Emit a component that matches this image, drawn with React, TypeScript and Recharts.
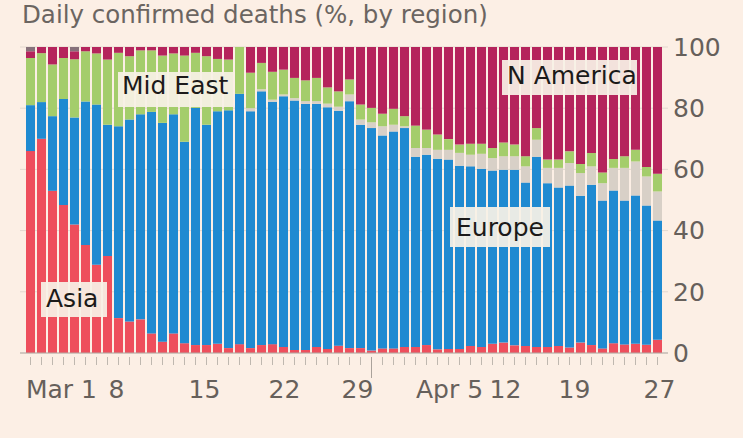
import { BarChart, Bar, XAxis, YAxis, CartesianGrid } from "recharts";

// one bar per day, Mar 1 to Apr 27
const DATES = [
  "03-01", "03-02", "03-03", "03-04", "03-05", "03-06", "03-07", "03-08", "03-09", "03-10",
  "03-11", "03-12", "03-13", "03-14", "03-15", "03-16", "03-17", "03-18", "03-19", "03-20",
  "03-21", "03-22", "03-23", "03-24", "03-25", "03-26", "03-27", "03-28", "03-29", "03-30",
  "03-31", "04-01", "04-02", "04-03", "04-04", "04-05", "04-06", "04-07", "04-08", "04-09",
  "04-10", "04-11", "04-12", "04-13", "04-14", "04-15", "04-16", "04-17", "04-18", "04-19",
  "04-20", "04-21", "04-22", "04-23", "04-24", "04-25", "04-26", "04-27",
];

// share of daily confirmed deaths, %
const ASIA = [
  66, 70, 53, 48.4, 42, 35.3, 28.8, 31.7, 11.4, 10.3,
  11, 6.4, 3.7, 6.4, 3.2, 2.6, 2.6, 3, 1.6, 2.9,
  1.6, 2.6, 2.9, 2, 1, 1, 2, 1.3, 2.4, 1.6,
  1.6, 0.8, 1.5, 1.5, 2, 2, 2.6, 1.2, 1.3, 1.3,
  2.3, 2, 3, 3.4, 2.5, 2.3, 2, 2, 2.3, 1.8,
  3.4, 2.6, 1.5, 3.2, 2.8, 3, 2.7, 4.3,
];
const EUROPE = [
  15, 12, 24.4, 34.6, 35, 46.9, 52.4, 42.9, 62.7, 66,
  67, 72.4, 71.5, 71.6, 65.8, 77.5, 72, 76, 77.7, 81.8,
  77.4, 82.9, 79.2, 81.9, 81.5, 80.4, 79.4, 79, 76.8, 80.7,
  73, 72.7, 69.6, 70.9, 71.5, 62.1, 62.2, 62.3, 61.9, 59.9,
  58.7, 58.2, 56.6, 56.5, 57.4, 53.4, 62.1, 53.5, 51.8, 52.9,
  48, 52.4, 48.3, 49.9, 47, 48.5, 45.5, 39,
];
const OTHER = [
  0, 0, 0, 0, 0, 0, 0, 0, 0, 0,
  0, 0, 0, 0, 0, 0, 0, 0, 0, 0,
  1, 0.7, 0.7, 0.6, 0.8, 0.9, 0.9, 1.2, 1.3, 2.2,
  1.7, 1.9, 3, 2.2, 0.6, 2.9, 2.2, 2.9, 3.2, 4.2,
  3.8, 4.9, 4.1, 4.4, 4.4, 5.3, 5.6, 5, 6.4, 7.4,
  7.4, 6, 5.7, 7.4, 10.7, 11.1, 9.5, 9.5,
];
const MID_EAST = [
  15.4, 16, 16.9, 13.4, 19, 16.4, 16.7, 21.3, 24, 20.7,
  20.9, 20.1, 22, 19.9, 28.2, 18, 22.4, 17.1, 16.6, 15.3,
  11.6, 8.6, 9.1, 8.1, 6.6, 6.8, 7.6, 5.3, 5, 4.9,
  4.9, 4.7, 4.1, 5.2, 3.3, 7.3, 6, 5, 3.5, 2.7,
  3.6, 3.3, 3.3, 4.5, 3.8, 3.3, 3.8, 2.7, 2.7, 3.8,
  3, 4.4, 3.5, 2.9, 3.8, 3.8, 3.1, 5.8,
];
const N_AMERICA = [
  2.2, 2, 5.7, 3.6, 2.6, 1.4, 2.1, 4.1, 1.9, 3,
  1.1, 1.1, 2.8, 2.1, 2.8, 1.9, 3, 3.9, 4.1, 0,
  8.4, 5.2, 8.1, 7.4, 10.1, 10.9, 10.1, 13.2, 14.5, 10.6,
  18.8, 19.9, 21.8, 20.2, 22.6, 25.7, 27, 28.6, 30.1, 31.9,
  31.6, 31.6, 33, 31.2, 31.9, 35.7, 26.5, 36.8, 36.8, 34.1,
  38.2, 34.6, 41, 36.6, 35.7, 33.6, 39.2, 41.4,
];
const REST = [
  1.4, 0, 0, 0, 1.4, 0, 0, 0, 0, 0,
  0, 0, 0, 0, 0, 0, 0, 0, 0, 0,
  0, 0, 0, 0, 0, 0, 0, 0, 0, 0,
  0, 0, 0, 0, 0, 0, 0, 0, 0, 0,
  0, 0, 0, 0, 0, 0, 0, 0, 0, 0,
  0, 0, 0, 0, 0, 0, 0, 0,
];

const Y_TICKS = [0, 20, 40, 60, 80, 100];

const X_LABELS: Record<string, string> = {
  "03-01": "Mar 1",
  "03-08": "8",
  "03-15": "15",
  "03-22": "22",
  "03-29": "29",
  "04-05": "Apr 5",
  "04-12": "12",
  "04-19": "19",
  "04-27": "27",
};
const MONTH_START = "04-01";

// how far each date label sits from its tick
const LABEL_DX: Record<string, number> = {
  "03-01": 31, "03-08": 9, "03-15": 20, "03-22": 23, "03-29": 19,
  "04-05": 34, "04-12": 13, "04-19": 5, "04-27": 2,
};

const SERIES = [
  { key: "asia", color: "#ee4e5c" },
  { key: "europe", color: "#1f8ad1" },
  { key: "other", color: "#d8d0c7" },
  { key: "midEast", color: "#a4cd6b" },
  { key: "nAmerica", color: "#b5245c" },
  { key: "rest", color: "#87717b" },
];

const NOTES = [
  { text: "Mid East", box: [118, 72, 115, 35], tx: 122, ty: 94 },
  { text: "N America", box: [502, 60, 135, 35], tx: 507, ty: 84 },
  { text: "Europe", box: [450, 207, 100, 40], tx: 456, ty: 236 },
  { text: "Asia", box: [41, 282, 66, 35], tx: 46, ty: 307 },
];

const rows = DATES.map((date, i) => ({
  date,
  asia: ASIA[i],
  europe: EUROPE[i],
  other: OTHER[i],
  midEast: MID_EAST[i],
  nAmerica: N_AMERICA[i],
  rest: REST[i],
}));

const FONT = "'DejaVu Sans', sans-serif";
const MUTED = "#66605b";

function DateTick({ x, y, payload }: any) {
  const d = payload.value as string;
  const label = X_LABELS[d];
  const long = d === MONTH_START;
  return (
    <g>
      <line x1={x} x2={x} y1={y + 4} y2={y + (long ? 25 : 12)} stroke={long ? "#aaa29b" : "#bfb7af"} strokeWidth={1} />
      {label && (
        <text x={x + LABEL_DX[d]} y={y + 45} textAnchor="middle" fill={MUTED} fontSize={25} fontFamily={FONT}>
          {label}
        </text>
      )}
    </g>
  );
}

export default function App() {
  return (
    <div style={{ position: "absolute", left: 0, top: 0, width: 743, height: 438, background: "#fcefe5", overflow: "hidden" }}>
      <div
        style={{
          position: "absolute", left: 22, top: 3, fontFamily: FONT, fontSize: 24.5, lineHeight: "24px",
          color: "#6b6561", whiteSpace: "nowrap",
        }}
      >
        Daily confirmed deaths (%, by region)
      </div>
      <BarChart
        width={743}
        height={438}
        data={rows}
        margin={{ top: 47, right: 5, bottom: 25, left: 20 }}
        barCategoryGap={1}
      >
        <CartesianGrid horizontal vertical={false} stroke="#e3d8cf" />
        <XAxis
          dataKey="date"
          interval={0}
          padding={{ left: 5, right: 5 }}
          height={60}
          tickSize={0}
          tickMargin={0}
          tickLine={false}
          axisLine={{ stroke: "#b3aba4" }}
          tick={<DateTick />}
        />
        <YAxis
          orientation="right"
          domain={[0, 100]}
          ticks={Y_TICKS}
          allowDataOverflow
          width={70}
          tickSize={3}
          tickMargin={2}
          tickLine={false}
          axisLine={false}
          tick={{ fill: MUTED, fontSize: 25, fontFamily: FONT }}
        />
        {SERIES.map((s) => (
          <Bar key={s.key} dataKey={s.key} stackId="share" fill={s.color} isAnimationActive={false} />
        ))}
      </BarChart>
      <svg width={743} height={438} style={{ position: "absolute", left: 0, top: 0, pointerEvents: "none" }}>
        {NOTES.map((n) => (
          <g key={n.text}>
            <rect x={n.box[0]} y={n.box[1]} width={n.box[2]} height={n.box[3]} fill="#f8f1e6" fillOpacity={0.93} />
            <text x={n.tx} y={n.ty} fill="#1c1a19" fontSize={25} fontFamily={FONT}>
              {n.text}
            </text>
          </g>
        ))}
      </svg>
    </div>
  );
}
